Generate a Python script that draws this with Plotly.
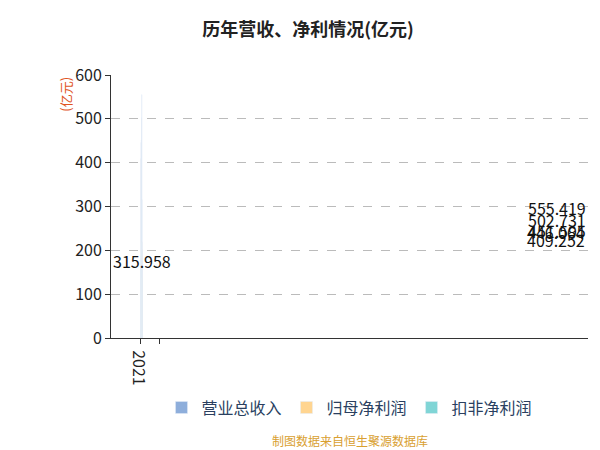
import plotly.graph_objects as go

years = ['2021', '2022', '2023', '2024', '2025', '2026H1']
revenue = [409.252, 446.064, 451.595, 502.731, 555.419, 315.958]
net_profit = [160, 186, 187, 204, 220, 138]
deducted = [158, 182, 181, 200, 218, 137]
colors = ['#8eaedb', '#ffd591', '#80d5d6']

fig = go.Figure()
fig.add_bar(x=years, y=revenue, name='营业总收入', marker_color=colors[0])
fig.add_bar(x=years, y=net_profit, name='归母净利润', marker_color=colors[1])
fig.add_bar(x=years, y=deducted, name='扣非净利润', marker_color=colors[2])

# 营收数值标签，放在每组中间
for yr, v in zip(years, revenue):
    fig.add_annotation(x=yr, y=v / 2, text=f'{v:.3f}', showarrow=False,
                       font=dict(size=16, color='#111'), yshift=8)

fig.add_annotation(text='(亿元)', xref='paper', yref='paper', x=-0.12, y=1.0,
                   showarrow=False, textangle=-90, font=dict(size=13, color='#e0541f'))
fig.add_annotation(text='制图数据来自恒生聚源数据库', xref='paper', yref='paper',
                   x=0.5, y=-0.43, showarrow=False, font=dict(size=12, color='#d9a030'))

fig.update_layout(
    width=600, height=450,
    title=dict(text='<b>历年营收、净利情况(亿元)</b>', x=0.5, y=0.965, font=dict(size=18, color='#222')),
    font=dict(family='Noto Sans CJK SC'),
    plot_bgcolor='white', paper_bgcolor='white',
    margin=dict(l=103, r=20, t=67, b=120),
    bargap=0.2, bargroupgap=0.05,
    legend=dict(orientation='h', x=0.5, xanchor='center', y=-0.2, font=dict(size=16)),
    showlegend=True,
)
fig.update_xaxes(type='category', showline=True, linecolor='#333', ticks='outside', tickcolor='#333',
                 tickson='boundaries', tickfont=dict(size=16, color='#222'))
fig.update_yaxes(range=[0, 600], dtick=100, showgrid=True, gridcolor='#bbb', griddash='dash',
                 showline=True, linecolor='#333', ticks='outside', tickcolor='#333',
                 tickfont=dict(size=16, color='#222'), zeroline=False)

fig.write_html('out.html')
